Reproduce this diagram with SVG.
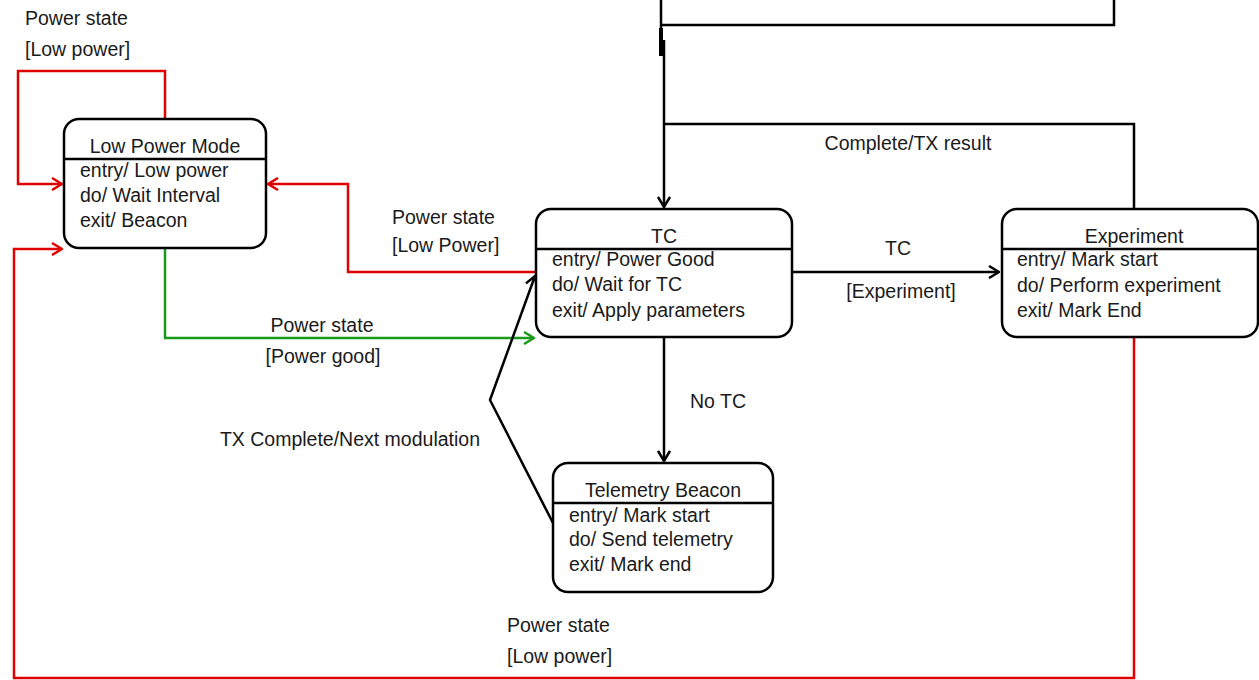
<svg xmlns="http://www.w3.org/2000/svg" width="1259" height="680" viewBox="0 0 1259 680">
<defs>
<style>
text{font-family:"Liberation Sans",Arial,sans-serif;font-size:19.5px;fill:#1a1a1a}
.c{text-anchor:middle}
.box{fill:#fff;stroke:#000;stroke-width:2.5}
.div{stroke:#000;stroke-width:2.5}
.k{fill:none;stroke:#000;stroke-width:2.5}
.r{fill:none;stroke:#e00000;stroke-width:2.5}
.g{fill:none;stroke:#1a9a1a;stroke-width:2.5}
</style>
<marker id="ak" viewBox="0 0 12 14" refX="11" refY="7" markerWidth="12" markerHeight="14" markerUnits="userSpaceOnUse" orient="auto"><path d="M1 1 L11 7 L1 13" fill="none" stroke="#000" stroke-width="2.5"/></marker>
<marker id="ar" viewBox="0 0 12 14" refX="11" refY="7" markerWidth="12" markerHeight="14" markerUnits="userSpaceOnUse" orient="auto"><path d="M1 1 L11 7 L1 13" fill="none" stroke="#e00000" stroke-width="2.5"/></marker>
<marker id="ag" viewBox="0 0 12 14" refX="11" refY="7" markerWidth="12" markerHeight="14" markerUnits="userSpaceOnUse" orient="auto"><path d="M1 1 L11 7 L1 13" fill="none" stroke="#1a9a1a" stroke-width="2.5"/></marker>
</defs>
<rect width="1259" height="680" fill="#fff"/>
<g id="connectors">
<path class="k" d="M661 0 V56"/>
<path d="M661 28 V56" stroke="#000" stroke-width="4"/>
<path class="k" d="M661 25 H1114 V0"/>
<path class="k" d="M664 40 V207" marker-end="url(#ak)"/>
<path class="k" d="M1134 209 V124 H664"/>
<path class="r" d="M165 119 V71 H18 V184 H62" marker-end="url(#ar)"/>
<path class="r" d="M536 272 H348 V184 H268" marker-end="url(#ar)"/>
<path class="g" d="M165 248 V338 H534" marker-end="url(#ag)"/>
<path class="r" d="M1134 338 V678 H14 V249 H62" marker-end="url(#ar)"/>
<path class="k" d="M792 272 H999" marker-end="url(#ak)"/>
<path class="k" d="M664 338 V461" marker-end="url(#ak)"/>
<path class="k" d="M553 523 L490 400 L535 276" marker-end="url(#ak)"/>
<text x="25" y="25">Power state</text>
<text x="25" y="56">[Low power]</text>
<text x="392" y="224">Power state</text>
<text x="392" y="252">[Low Power]</text>
<text class="c" x="322" y="332">Power state</text>
<text class="c" x="323" y="363">[Power good]</text>
<text class="c" x="898" y="255">TC</text>
<text class="c" x="901" y="298">[Experiment]</text>
<text class="c" x="908" y="150">Complete/TX result</text>
<text class="c" x="718" y="408">No TC</text>
<text x="480" y="446" text-anchor="end">TX Complete/Next modulation</text>
<text x="507" y="632">Power state</text>
<text x="507" y="663">[Low power]</text>
</g>
<g id="low-power-mode">
<rect class="box" x="64" y="119" width="202" height="129" rx="15"/>
<path class="div" d="M64 159 H266"/>
<text class="c" x="165" y="153">Low Power Mode</text>
<text x="80" y="177">entry/ Low power</text>
<text x="80" y="202">do/ Wait Interval</text>
<text x="80" y="227">exit/ Beacon</text>
</g>
<g id="tc">
<rect class="box" x="536" y="209" width="256" height="128" rx="15"/>
<path class="div" d="M536 249 H792"/>
<text class="c" x="664" y="243">TC</text>
<text x="552" y="266">entry/ Power Good</text>
<text x="552" y="291">do/ Wait for TC</text>
<text x="552" y="317">exit/ Apply parameters</text>
</g>
<g id="experiment">
<rect class="box" x="1002" y="209" width="256" height="128" rx="15"/>
<path class="div" d="M1002 249 H1258"/>
<text class="c" x="1134" y="243">Experiment</text>
<text x="1017" y="266">entry/ Mark start</text>
<text x="1017" y="292">do/ Perform experiment</text>
<text x="1017" y="317">exit/ Mark End</text>
</g>
<g id="telemetry-beacon">
<rect class="box" x="553" y="463" width="220" height="129" rx="15"/>
<path class="div" d="M553 503 H773"/>
<text class="c" x="663" y="497">Telemetry Beacon</text>
<text x="569" y="522">entry/ Mark start</text>
<text x="569" y="546">do/ Send telemetry</text>
<text x="569" y="571">exit/ Mark end</text>
</g>
</svg>
